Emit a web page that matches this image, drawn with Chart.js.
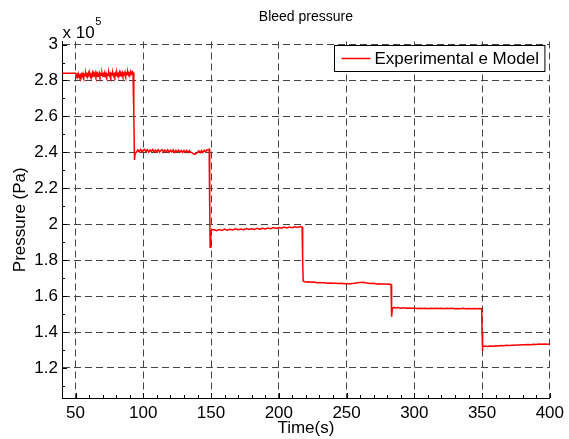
<!DOCTYPE html>
<html>
<head>
<meta charset="utf-8">
<script src="https://cdn.jsdelivr.net/npm/chart.js@4"></script>
<style>
  body { margin: 0; background: #fff; }
  #wrap { width: 569px; height: 439px; }
</style>
</head>
<body>
<div id="wrap"><canvas id="bleedChart"></canvas></div>
<script>
// time (s) and bleed pressure (x 10^5 Pa)
const times = [
  40, 50,
  50.5, 51, 51.5, 52, 52.5, 53, 53.5, 54, 54.5, 55,
  55.5, 56, 56.5, 57, 57.5, 58, 58.5, 59, 59.5, 60,
  60.5, 61, 61.5, 62, 62.5, 63, 63.5, 64, 64.5, 65,
  65.5, 66, 66.5, 67, 67.5, 68, 68.5, 69, 69.5, 70,
  70.5, 71, 71.5, 72, 72.5, 73, 73.5, 74, 74.5, 75,
  75.5, 76, 76.5, 77, 77.5, 78, 78.5, 79, 79.5, 80,
  80.5, 81, 81.5, 82, 82.5, 83, 83.5, 84, 84.5, 85,
  85.5, 86, 86.5, 87, 87.5, 88, 88.5, 89, 89.5, 90,
  90.5, 91, 91.5, 92,
  92.4, 93, 93.5, 94,
  95, 96, 97, 98, 99, 100, 101, 102, 103, 104, 105, 106, 107, 108, 109, 110, 111, 112, 113, 114,
  115, 116, 117, 118, 119, 120, 121, 122, 123, 124, 125, 126, 127, 128, 129, 130, 131, 132, 133, 134,
  135, 136, 137, 138, 139, 140, 141, 142, 143, 144, 145, 146, 147, 148, 148.6,
  149, 149.3, 149.8, 150.5,
  152, 154, 156, 158, 160, 162, 164, 166, 168, 170, 172, 174, 176, 178, 180, 182, 184, 186, 188, 190,
  192, 194, 196, 198, 200, 202, 204, 206, 208, 210, 212, 214, 216, 217.2,
  217.6, 218, 219,
  220, 222, 224, 226, 228, 230, 232, 234, 236, 238, 240, 242, 244, 246, 248, 250, 252, 254, 256, 258,
  260, 262, 264, 266, 268, 270, 272, 274, 276, 278, 280, 282, 282.8,
  283.1, 283.4, 283.8, 285,
  286, 288, 290, 292, 294, 296, 298, 300, 302, 304, 306, 308, 310, 312, 314, 316, 318, 320, 322, 324,
  326, 328, 330, 332, 334, 336, 338, 340, 342, 344, 346, 348, 349.7,
  350, 350.2, 350.6, 352,
  354, 356, 358, 360, 362, 364, 366, 368, 370, 372, 374, 376, 378, 380, 382, 384, 386, 388, 390, 392,
  394, 396, 398, 400
];
const pressure = [
  2.841, 2.841,
  2.838, 2.826, 2.834, 2.818, 2.829, 2.816, 2.831, 2.821, 2.835, 2.824,
  2.838, 2.822, 2.834, 2.827, 2.841, 2.825, 2.836, 2.829, 2.842, 2.826,
  2.837, 2.821, 2.835, 2.828, 2.843, 2.824, 2.838, 2.830, 2.844, 2.826,
  2.839, 2.823, 2.836, 2.828, 2.842, 2.825, 2.837, 2.829, 2.843, 2.827,
  2.836, 2.822, 2.838, 2.826, 2.840, 2.824, 2.835, 2.829, 2.844, 2.827,
  2.839, 2.823, 2.837, 2.830, 2.842, 2.826, 2.836, 2.824, 2.840, 2.828,
  2.843, 2.827, 2.838, 2.831, 2.845, 2.826, 2.839, 2.830, 2.844, 2.828,
  2.840, 2.832, 2.846, 2.829, 2.841, 2.833, 2.847, 2.831, 2.842, 2.836,
  2.849, 2.834, 2.846, 2.850,
  2.845, 2.600, 2.358, 2.395,
  2.401, 2.414, 2.403, 2.416, 2.404, 2.413, 2.417, 2.403, 2.415, 2.401, 2.413, 2.404, 2.416, 2.402, 2.412, 2.403, 2.415, 2.401, 2.411, 2.415,
  2.402, 2.413, 2.403, 2.414, 2.400, 2.412, 2.402, 2.414, 2.400, 2.411, 2.402, 2.413, 2.401, 2.410, 2.399, 2.410, 2.400, 2.411, 2.399, 2.409,
  2.401, 2.397, 2.392, 2.389, 2.394, 2.400, 2.408, 2.398, 2.410, 2.400, 2.412, 2.402, 2.414, 2.413, 2.417,
  2.100, 1.872, 1.960, 1.968,
  1.970, 1.964, 1.971, 1.966, 1.973, 1.967, 1.972, 1.968, 1.975, 1.969, 1.974, 1.970, 1.976, 1.971, 1.975, 1.971, 1.977, 1.972, 1.978, 1.974,
  1.979, 1.975, 1.981, 1.976, 1.982, 1.978, 1.984, 1.979, 1.985, 1.981, 1.986, 1.982, 1.987, 1.984,
  1.800, 1.684, 1.680,
  1.678, 1.680, 1.677, 1.678, 1.675, 1.676, 1.674, 1.675, 1.672, 1.673, 1.671, 1.672, 1.670, 1.671, 1.669, 1.670, 1.668, 1.670, 1.671, 1.674,
  1.676, 1.677, 1.674, 1.672, 1.670, 1.671, 1.668, 1.669, 1.667, 1.668, 1.666, 1.667, 1.665,
  1.550, 1.485, 1.530, 1.537,
  1.534, 1.536, 1.533, 1.535, 1.532, 1.534, 1.532, 1.533, 1.531, 1.533, 1.531, 1.532, 1.530, 1.532, 1.531, 1.533, 1.531, 1.532, 1.530, 1.532,
  1.531, 1.532, 1.530, 1.531, 1.530, 1.532, 1.530, 1.531, 1.530, 1.531, 1.530, 1.531, 1.530,
  1.400, 1.296, 1.318, 1.322,
  1.320, 1.323, 1.321, 1.324, 1.322, 1.325, 1.324, 1.326, 1.325, 1.327, 1.326, 1.328, 1.328, 1.330, 1.329, 1.331, 1.330, 1.332, 1.331, 1.333,
  1.332, 1.333, 1.332, 1.333
];
const xTicks = [50, 100, 150, 200, 250, 300, 350, 400];
const yTicks = [1.2, 1.4, 1.6, 1.8, 2, 2.2, 2.4, 2.6, 2.8, 3];
const xMinor = [60, 70, 80, 90, 110, 120, 130, 140, 160, 170, 180, 190, 210, 220, 230, 240,
  260, 270, 280, 290, 310, 320, 330, 340, 360, 370, 380, 390];
const yMinor = [1.1, 1.3, 1.5, 1.7, 1.9, 2.1, 2.3, 2.5, 2.7, 2.9];

const FONT = "'Liberation Sans', Arial, Helvetica, sans-serif";
const chartTitle = "Bleed pressure";

// MATLAB style title over the axes, inward ticks, legend inside the axes, x 10^5 factor
const matlabBits = {
  id: "matlabBits",
  afterDraw(chart) {
    const ctx = chart.ctx;
    const area = chart.chartArea;
    const xs = chart.scales.x, ys = chart.scales.y;
    ctx.save();
    ctx.strokeStyle = "#000";
    ctx.lineWidth = 1;
    ctx.beginPath();
    xTicks.forEach(v => {
      const px = Math.round(xs.getPixelForValue(v)) + 0.5;
      ctx.moveTo(px, area.bottom); ctx.lineTo(px, area.bottom - 5);
    });
    xMinor.forEach(v => {
      const px = Math.round(xs.getPixelForValue(v)) + 0.5;
      ctx.moveTo(px, area.bottom); ctx.lineTo(px, area.bottom - 3);
    });
    yTicks.forEach(v => {
      const py = Math.round(ys.getPixelForValue(v)) + 0.5;
      ctx.moveTo(area.left, py); ctx.lineTo(area.left + 5, py);
    });
    yMinor.forEach(v => {
      const py = Math.round(ys.getPixelForValue(v)) + 0.5;
      ctx.moveTo(area.left, py); ctx.lineTo(area.left + 3, py);
    });
    ctx.stroke();

    // title, centred over the axes
    ctx.fillStyle = "#000";
    ctx.textAlign = "center";
    ctx.textBaseline = "middle";
    ctx.font = "14px " + FONT;
    ctx.fillText(chartTitle, (area.left + area.right) / 2, 17);

    // exponent label
    ctx.textBaseline = "alphabetic";
    ctx.textAlign = "left";
    ctx.font = "17px " + FONT;
    ctx.fillText("x 10", area.left + 0.5, area.top - 4);
    const w = ctx.measureText("x 10").width;
    ctx.font = "11px " + FONT;
    ctx.fillText("5", area.left + w + 1, area.top - 17);

    // legend
    const ds = chart.data.datasets[0];
    ctx.font = "17px " + FONT;
    const tw = ctx.measureText(ds.label).width;
    const bw = tw + 46, bh = 26;
    const bx = Math.round(area.right - 5 - bw) + 0.5;
    const by = Math.round(area.top + 3) + 0.5;
    ctx.fillStyle = "#fff";
    ctx.fillRect(bx, by, bw, bh);
    ctx.strokeStyle = "#000";
    ctx.strokeRect(bx, by, bw, bh);
    ctx.strokeStyle = ds.borderColor;
    ctx.lineWidth = 1.5;
    ctx.beginPath();
    ctx.moveTo(bx + 7, by + bh / 2); ctx.lineTo(bx + 36, by + bh / 2);
    ctx.stroke();
    ctx.fillStyle = "#000";
    ctx.textBaseline = "middle";
    ctx.fillText(ds.label, bx + 40, by + bh / 2 + 1);
    ctx.restore();
  }
};

new Chart(document.getElementById("bleedChart"), {
  type: "line",
  data: {
    datasets: [{
      label: "Experimental e Model",
      data: times.map((t, i) => ({ x: t, y: pressure[i] })),
      borderColor: "#ff0000",
      borderWidth: 1.5,
      pointRadius: 0,
      tension: 0,
      fill: false
    }]
  },
  options: {
    responsive: true,
    maintainAspectRatio: false,
    animation: false,
    layout: { padding: { left: 0, right: 16, top: 41.5, bottom: 0 } },
    plugins: {
      legend: { display: false },
      tooltip: { enabled: false },
      title: { display: false }
    },
    scales: {
      x: {
        type: "linear",
        min: 40,
        max: 400,
        afterBuildTicks: s => { s.ticks = xTicks.map(v => ({ value: v })); },
        afterFit: s => { s.height = 41; },
        grid: { color: "#444", lineWidth: 1, drawTicks: false },
        border: { display: true, color: "#000", width: 1, dash: [7, 4] },
        ticks: { color: "#000", padding: 5, maxRotation: 0, font: { family: FONT, size: 17 }, callback: v => String(v) },
        title: { display: true, text: "Time(s)", color: "#000", font: { family: FONT, size: 17 }, padding: { top: 0, bottom: 0 } }
      },
      y: {
        min: 1.033,
        max: 3.017,
        afterBuildTicks: s => { s.ticks = yTicks.map(v => ({ value: v })); },
        afterFit: s => { s.width = 62; },
        grid: { color: "#444", lineWidth: 1, drawTicks: false },
        border: { display: true, color: "#000", width: 1, dash: [7, 4] },
        ticks: { color: "#000", padding: 4, font: { family: FONT, size: 17 }, callback: v => String(v) },
        title: { display: true, text: "Pressure (Pa)", color: "#000", font: { family: FONT, size: 17 }, padding: { top: 10, bottom: 0 } }
      }
    }
  },
  plugins: [matlabBits]
});
</script>
</body>
</html>
